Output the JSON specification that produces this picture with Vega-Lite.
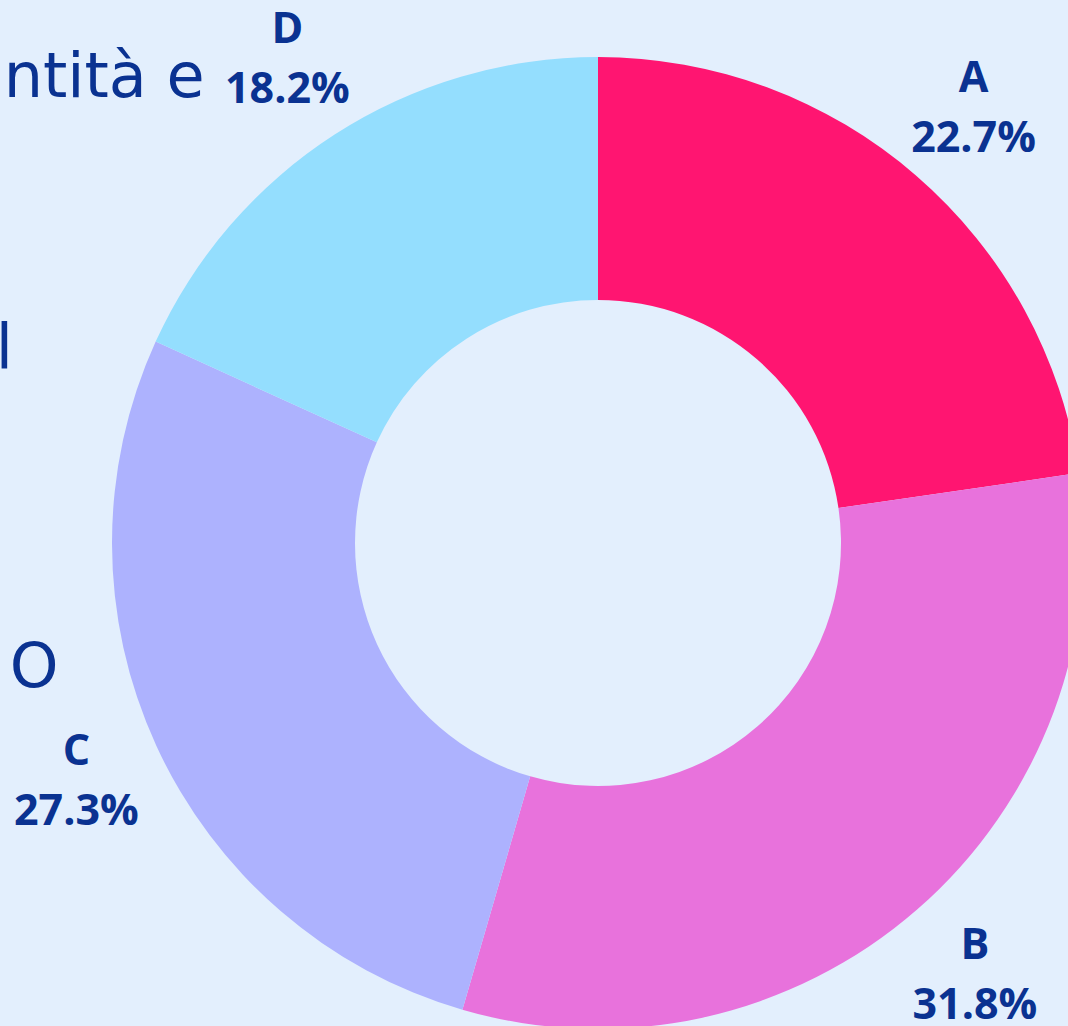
{
  "$schema": "https://vega.github.io/schema/vega-lite/v6.json",
  "width": 972,
  "height": 972,
  "autosize": {"type": "none"},
  "padding": {"left": 112, "top": 57, "right": 0, "bottom": 0},
  "background": "#E3EFFD",
  "config": {"view": {"stroke": null}},
  "title": {
    "text": "quantità e",
    "subtitle": ["Ural", "per O"],
    "orient": "top",
    "anchor": "start",
    "frame": "group",
    "align": "left",
    "font": "DejaVu Sans",
    "fontSize": 62,
    "fontWeight": "normal",
    "color": "#0A3291",
    "subtitleFont": "DejaVu Sans",
    "subtitleFontSize": 62,
    "subtitleFontWeight": "normal",
    "subtitleColor": "#0A3291",
    "subtitleLineHeight": 319,
    "subtitlePadding": 209,
    "offset": -691,
    "dx": -225
  },
  "data": {
    "values": [
      {"cat": "A", "value": 22.7, "pct": "22.7%"},
      {"cat": "B", "value": 31.8, "pct": "31.8%"},
      {"cat": "C", "value": 27.3, "pct": "27.3%"},
      {"cat": "D", "value": 18.2, "pct": "18.2%"}
    ]
  },
  "encoding": {
    "theta": {"field": "value", "type": "quantitative", "stack": true},
    "order": {"field": "cat", "type": "nominal", "sort": "ascending"}
  },
  "layer": [
    {
      "mark": {"type": "arc", "innerRadius": 243, "outerRadius": 486, "strokeWidth": 0},
      "encoding": {
        "color": {
          "field": "cat",
          "type": "nominal",
          "scale": {"domain": ["A", "B", "C", "D"], "range": ["#FF1571", "#E872DC", "#ADB2FE", "#94DEFE"]},
          "legend": null
        }
      }
    },
    {
      "mark": {"type": "text", "radius": 574, "dy": -30, "font": "Open Sans", "fontSize": 43, "fontWeight": "bold", "color": "#0A3291", "align": "center", "baseline": "middle"},
      "encoding": {"text": {"field": "cat", "type": "nominal"}}
    },
    {
      "mark": {"type": "text", "radius": 574, "dy": 30, "font": "Open Sans", "fontSize": 43, "fontWeight": "bold", "color": "#0A3291", "align": "center", "baseline": "middle"},
      "encoding": {"text": {"field": "pct", "type": "nominal"}}
    }
  ]
}
